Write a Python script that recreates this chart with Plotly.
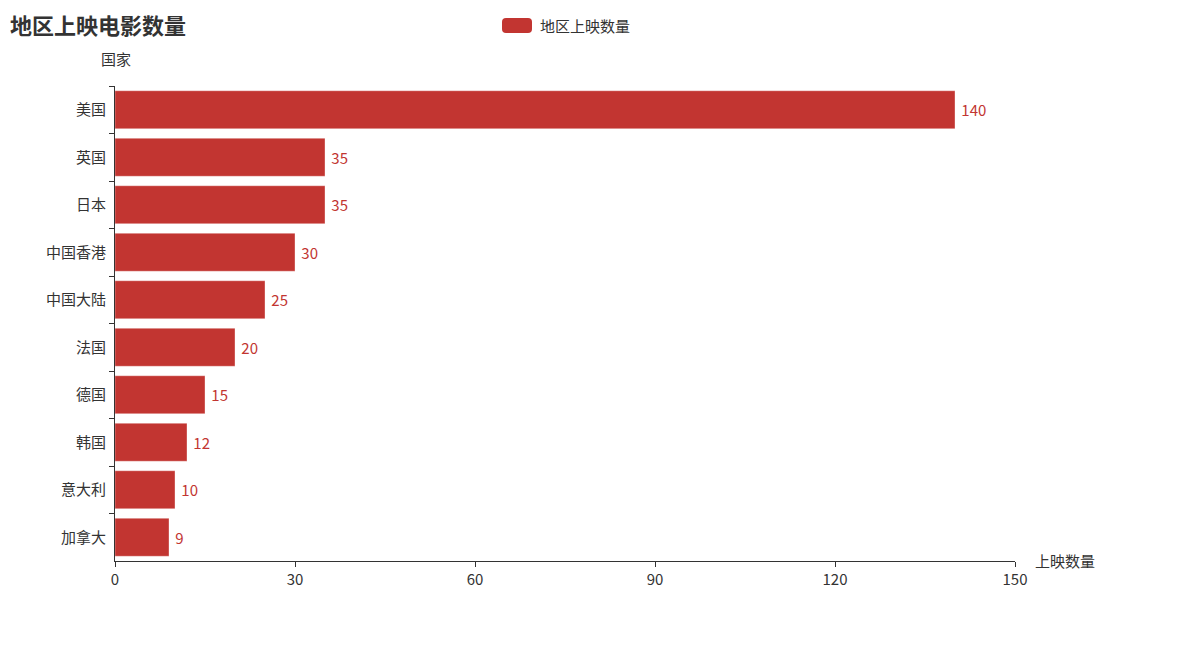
import plotly.graph_objects as go

countries = ["美国", "英国", "日本", "中国香港", "中国大陆", "法国", "德国", "韩国", "意大利", "加拿大"]
counts = [140, 35, 35, 30, 25, 20, 15, 12, 10, 9]
x_ticks = [0, 30, 60, 90, 120, 150]

RED = "#c23531"
TXT = "#333333"
FONT = "Noto Sans CJK SC, Microsoft YaHei, sans-serif"

O = 8  # page body margin offset
W, H = 1187 - 2 * O, 654 - 2 * O
L, R, T, B = 115 - O, 1015 - O, 86 - O, 561 - O

def px_x(px):
    return (px - O - L) / (R - L)

def px_y(py):
    return (B - (py - O)) / (B - T)

fig = go.Figure()
fig.add_trace(go.Bar(
    x=counts, y=countries, orientation="h", name="地区上映数量",
    marker=dict(color=RED, line=dict(color="rgba(255,255,255,0.35)", width=1)),
    text=counts, texttemplate=" %{text}", textposition="outside", cliponaxis=False,
    textfont=dict(color=RED, size=15, family=FONT),
    showlegend=False,
))

fig.update_layout(
    width=W, height=H, autosize=False,
    margin=dict(l=L, r=W - R, t=T, b=H - B, pad=0),
    paper_bgcolor="white", plot_bgcolor="white",
    font=dict(family=FONT, size=15, color=TXT),
    bargap=0.2,
    title=dict(text="<b>地区上映电影数量</b>", x=(10 - O) / W, xref="container", xanchor="left",
               y=1 - (26 - O) / H, yref="container", yanchor="middle",
               font=dict(size=22, color=TXT, family=FONT)),
    xaxis=dict(range=[0, 150], tickvals=x_ticks, ticks="outside", ticklen=5,
               tickcolor=TXT, showline=True, linecolor=TXT, linewidth=1,
               showgrid=False, zeroline=False, tickfont=dict(size=15, color=TXT)),
    yaxis=dict(categoryorder="array", categoryarray=countries, autorange="reversed",
               ticks="outside", ticklen=5, tickcolor=TXT, tickson="boundaries",
               ticklabelstandoff=5,
               showline=True, linecolor=TXT, linewidth=1, showgrid=False,
               tickfont=dict(size=15, color=TXT)),
)

# legend (rounded rect + text)
r = 4
path = (f"M {-15 + r},-7.5 L {15 - r},-7.5 Q 15,-7.5 15,{-7.5 + r} L 15,{7.5 - r} Q 15,7.5 {15 - r},7.5 "
        f"L {-15 + r},7.5 Q -15,7.5 -15,{7.5 - r} L -15,{-7.5 + r} Q -15,-7.5 {-15 + r},-7.5 Z")
fig.add_shape(type="path", xref="paper", yref="paper", xsizemode="pixel", ysizemode="pixel",
              xanchor=px_x(517), yanchor=px_y(25.5), path=path,
              fillcolor=RED, line=dict(width=0))
fig.add_annotation(text="地区上映数量", xref="paper", yref="paper", x=px_x(538), y=px_y(25.5),
                   xanchor="left", yanchor="middle", showarrow=False,
                   font=dict(size=15, color=TXT, family=FONT))

# axis names
fig.add_annotation(text="国家", xref="paper", yref="paper", x=px_x(116), y=px_y(58),
                   xanchor="center", yanchor="middle", showarrow=False,
                   font=dict(size=15, color=TXT, family=FONT))
fig.add_annotation(text="上映数量", xref="paper", yref="paper", x=px_x(1033), y=px_y(560),
                   xanchor="left", yanchor="middle", showarrow=False,
                   font=dict(size=15, color=TXT, family=FONT))

fig.write_html("out.html")
